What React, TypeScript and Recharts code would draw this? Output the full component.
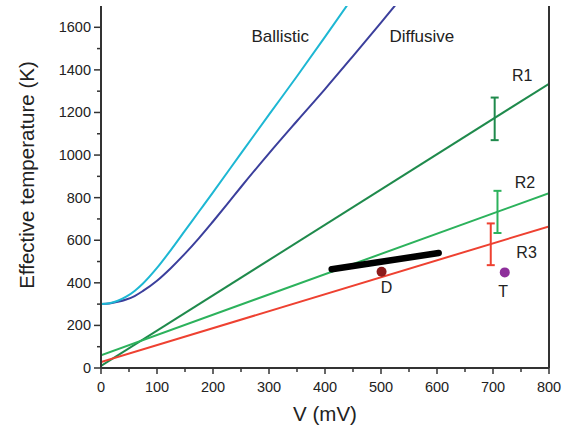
import React from 'react';
import {
  ComposedChart,
  Line,
  Scatter,
  ErrorBar,
  XAxis,
  YAxis,
  ReferenceDot,
} from 'recharts';

// values
const ballisticV = [0, 15, 30, 45, 60, 75, 100, 125, 150, 175, 200, 250, 300, 350, 400, 440];
const ballisticT = [300, 304, 316, 335, 362, 397, 470, 555, 645, 735, 825, 1008, 1190, 1370, 1555, 1705];

const diffusiveV = [0, 15, 30, 45, 60, 75, 100, 125, 150, 175, 200, 225, 250, 300, 350, 400, 450, 500, 530];
const diffusiveT = [300, 303, 311, 322, 338, 362, 410, 470, 537, 610, 688, 768, 850, 1008, 1160, 1310, 1465, 1622, 1718];

const rV = [0, 800];
const r1T = [10, 1335];
const r2T = [60, 821];
const r3T = [28, 665];

const errV = [703, 708, 696];
const errT = [1170, 733, 581];
const errSize = [100, 99, 98];

const measV = [412, 603];
const measT = [464, 540];

const pointD = { v: 501, t: 452 };
const pointT = { v: 721, t: 449 };

const xTicks = [0, 50, 100, 150, 200, 250, 300, 350, 400, 450, 500, 550, 600, 650, 700, 750, 800];
const yTicks = [0, 100, 200, 300, 400, 500, 600, 700, 800, 900, 1000, 1100, 1200, 1300, 1400, 1500, 1600];

const labels = [
  { text: 'Ballistic', v: 320, t: 1559, size: 17 },
  { text: 'Diffusive', v: 573, t: 1559, size: 17 },
  { text: 'R1', v: 752, t: 1374, size: 16 },
  { text: 'R2', v: 757, t: 871, size: 16 },
  { text: 'R3', v: 760, t: 543, size: 16 },
  { text: 'D', v: 510, t: 381, size: 16 },
  { text: 'T', v: 718, t: 358, size: 16 },
];

const toRows = (vs: number[], ts: number[]) => vs.map((v, i) => ({ v, t: ts[i] }));

const ballistic = toRows(ballisticV, ballisticT);
const diffusive = toRows(diffusiveV, diffusiveT);
const r1 = toRows(rV, r1T);
const r2 = toRows(rV, r2T);
const r3 = toRows(rV, r3T);
const meas = toRows(measV, measT);
const errRows = errV.map((v, i) => [{ v, t: errT[i], e: errSize[i] }]);
const errColors = ['#1f8a4c', '#2cb25c', '#ee4131'];

const AXIS = '#333';
const TEXT = '#222';
const FONT = '"Liberation Sans", Arial, sans-serif';

const BottomTick = (p: any) => {
  const v = p.payload.value;
  const major = v % 100 === 0;
  return (
    <g>
      <line x1={p.x} x2={p.x} y1={p.y} y2={p.y + (major ? 6 : 4)} stroke={AXIS} strokeWidth={1.5} />
      {major && (
        <text x={p.x} y={p.y + 24} textAnchor="middle" fontSize={14.5} fill={TEXT} fontFamily={FONT}>
          {v}
        </text>
      )}
    </g>
  );
};

const TopTick = (p: any) => {
  const major = p.payload.value % 100 === 0;
  return <line x1={p.x} x2={p.x} y1={p.y} y2={p.y + (major ? 7 : 5)} stroke={AXIS} strokeWidth={1.5} />;
};

const LeftTick = (p: any) => {
  const v = p.payload.value;
  const major = v % 200 === 0;
  return (
    <g>
      <line x1={p.x} x2={p.x - (major ? 7 : 4)} y1={p.y} y2={p.y} stroke={AXIS} strokeWidth={1.5} />
      {major && (
        <text x={p.x - 10} y={p.y + 5} textAnchor="end" fontSize={14.5} fill={TEXT} fontFamily={FONT}>
          {v}
        </text>
      )}
    </g>
  );
};

const RightTick = (p: any) => {
  const major = p.payload.value % 200 === 0;
  return <line x1={p.x} x2={p.x - (major ? 7 : 5)} y1={p.y} y2={p.y} stroke={AXIS} strokeWidth={1.5} />;
};

const noShape = () => <g />;

export default function App() {
  return (
    <div style={{ position: 'absolute', left: 0, top: 0, background: '#fff', fontFamily: FONT }}>
      <ComposedChart width={569} height={433} margin={{ top: 6, right: 0, bottom: 0, left: 0 }}>
        <XAxis
          dataKey="v"
          type="number"
          domain={[0, 800]}
          ticks={xTicks}
          interval={0}
          allowDataOverflow
          tickLine={false}
          tickSize={0}
          tickMargin={0}
          tick={<BottomTick />}
          height={65}
          axisLine={{ stroke: AXIS, strokeWidth: 2 }}
          label={{ value: 'V (mV)', position: 'insideBottom', offset: 12, fill: TEXT, fontSize: 20.5 }}
        />
        <XAxis
          xAxisId="top"
          orientation="top"
          dataKey="v"
          type="number"
          domain={[0, 800]}
          ticks={xTicks}
          interval={0}
          tickLine={false}
          tickSize={0}
          tickMargin={0}
          tick={<TopTick />}
          height={0}
          axisLine={{ stroke: AXIS, strokeWidth: 2 }}
        />
        <YAxis
          type="number"
          domain={[0, 1700]}
          ticks={yTicks}
          interval={0}
          allowDataOverflow
          tickLine={false}
          tickSize={0}
          tickMargin={0}
          tick={<LeftTick />}
          width={101}
          axisLine={{ stroke: AXIS, strokeWidth: 2 }}
          label={{
            value: 'Effective temperature (K)',
            angle: -90,
            position: 'center',
            dx: -24,
            dy: -12,
            fill: TEXT,
            fontSize: 20.5,
          }}
        />
        <YAxis
          yAxisId="right"
          orientation="right"
          type="number"
          domain={[0, 1700]}
          ticks={yTicks}
          interval={0}
          tickLine={false}
          tickSize={0}
          tickMargin={0}
          tick={<RightTick />}
          width={20}
          axisLine={{ stroke: AXIS, strokeWidth: 2 }}
        />

        <Line data={r1} dataKey="t" stroke="#1f8a4c" strokeWidth={2} dot={false} isAnimationActive={false} />
        <Line data={r2} dataKey="t" stroke="#2cb25c" strokeWidth={2} dot={false} isAnimationActive={false} />
        <Line data={r3} dataKey="t" stroke="#ee4131" strokeWidth={2} dot={false} isAnimationActive={false} />
        <Line type="monotone" data={diffusive} dataKey="t" stroke="#3b3f9c" strokeWidth={2} dot={false} isAnimationActive={false} />
        <Line type="monotone" data={ballistic} dataKey="t" stroke="#1db7d3" strokeWidth={2} dot={false} isAnimationActive={false} />
        <Line
          data={meas}
          dataKey="t"
          stroke="#000"
          strokeWidth={6.5}
          strokeLinecap="round"
          dot={false}
          isAnimationActive={false}
        />

        {errRows.map((rows, i) => (
          <Scatter key={i} data={rows} dataKey="t" shape={noShape} isAnimationActive={false}>
            <ErrorBar dataKey="e" direction="y" width={4} stroke={errColors[i]} strokeWidth={2} isAnimationActive={false} />
          </Scatter>
        ))}

        <Scatter data={[pointD]} dataKey="t" fill="#8c1b1b" isAnimationActive={false}
          shape={(p: any) => <circle cx={p.cx} cy={p.cy} r={5} fill="#8c1b1b" />} />
        <Scatter data={[pointT]} dataKey="t" fill="#8e2f9b" isAnimationActive={false}
          shape={(p: any) => <circle cx={p.cx} cy={p.cy} r={5} fill="#8e2f9b" />} />

        {labels.map((l) => (
          <ReferenceDot
            key={l.text}
            x={l.v}
            y={l.t}
            r={1}
            fill="none"
            stroke="none"
            ifOverflow="visible"
            label={{ value: l.text, position: 'center', fill: TEXT, fontSize: l.size }}
          />
        ))}
      </ComposedChart>
    </div>
  );
}
